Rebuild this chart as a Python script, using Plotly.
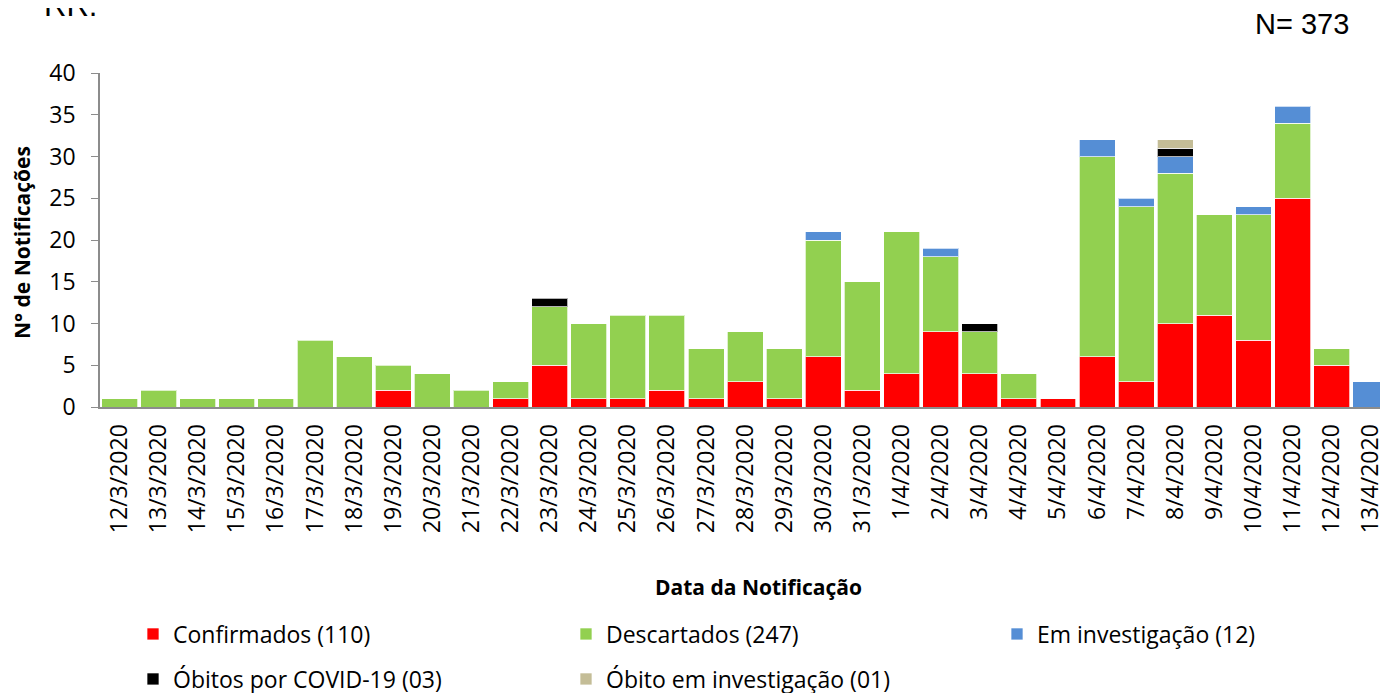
import plotly.graph_objects as go

datas = ["12/3/2020", "13/3/2020", "14/3/2020", "15/3/2020", "16/3/2020", "17/3/2020",
         "18/3/2020", "19/3/2020", "20/3/2020", "21/3/2020", "22/3/2020", "23/3/2020",
         "24/3/2020", "25/3/2020", "26/3/2020", "27/3/2020", "28/3/2020", "29/3/2020",
         "30/3/2020", "31/3/2020", "1/4/2020", "2/4/2020", "3/4/2020", "4/4/2020",
         "5/4/2020", "6/4/2020", "7/4/2020", "8/4/2020", "9/4/2020", "10/4/2020",
         "11/4/2020", "12/4/2020", "13/4/2020"]

confirmados = [None, None, None, None, None, None, None, 2, None, None, 1, 5,
               1, 1, 2, 1, 3, 1, 6, 2, 4, 9, 4, 1,
               1, 6, 3, 10, 11, 8, 25, 5, None]
descartados = [1, 2, 1, 1, 1, 8, 6, 3, 4, 2, 2, 7,
               9, 10, 9, 6, 6, 6, 14, 13, 17, 9, 5, 3,
               None, 24, 21, 18, 12, 15, 9, 2, None]
em_investigacao = [None, None, None, None, None, None, None, None, None, None, None, None,
                   None, None, None, None, None, None, 1, None, None, 1, None, None,
                   None, 2, 1, 2, None, 1, 2, None, 3]
obitos_covid = [None, None, None, None, None, None, None, None, None, None, None, 1,
                None, None, None, None, None, None, None, None, None, None, 1, None,
                None, None, None, 1, None, None, None, None, None]
obito_investigacao = [None, None, None, None, None, None, None, None, None, None, None, None,
                      None, None, None, None, None, None, None, None, None, None, None, None,
                      None, None, None, 1, None, None, None, None, None]

# The page body adds an 8px offset; figure coords = screen coords - OFF
OFF = 8
W, H = 1388 - OFF, 693 - OFF
L, R, T = 100 - OFF, 0, 73 - OFF
B = H - (407 - OFF)
ph = H - T - B
pw = W - L - R


def py(s):
    return (H - B - (s - OFF)) / ph


def px(s):
    return ((s - OFF) - L) / pw


# name, values, colour, legend id, legend text screen position (x, y)
series = [
    ("Confirmados (110)", confirmados, "#FF0000", "legend", (174, 634)),
    ("Descartados (247)", descartados, "#92D050", "legend2", (607, 634)),
    ("Em investigação (12)", em_investigacao, "#558ED5", "legend3", (1038, 634)),
    ("Óbitos por COVID-19 (03)", obitos_covid, "#000000", "legend4", (174, 679)),
    ("Óbito em investigação (01)", obito_investigacao, "#C4BD97", "legend5", (607, 679)),
]

FONT = "Open Sans"

fig = go.Figure()
legends = {}
for name, vals, color, leg, (tx, ty) in series:
    fig.add_trace(go.Bar(
        x=datas, y=vals, name=name,
        marker=dict(color=color, line=dict(color="rgba(255,255,255,0.7)", width=1)),
        legend=leg, showlegend=True,
    ))
    legends[leg] = dict(
        orientation="v", x=px(tx - 41), y=py(ty), xanchor="left", yanchor="middle",
        font=dict(size=23, family=FONT), bgcolor="rgba(0,0,0,0)",
        itemclick=False, itemdoubleclick=False,
    )

fig.update_layout(
    width=W, height=H,
    showlegend=True,
    margin=dict(l=L, r=R, t=T, b=B, autoexpand=False),
    barmode="stack",
    bargap=0.08,
    plot_bgcolor="white",
    paper_bgcolor="white",
    font=dict(family=FONT, color="black"),
    xaxis=dict(
        type="category",
        range=[-0.5, 32.44],
        tickangle=-90,
        tickfont=dict(size=23, family=FONT),
        ticklabelstandoff=6,
        showline=True, linecolor="#8c8c8c", linewidth=2,
        ticks="", showgrid=False,
    ),
    yaxis=dict(
        range=[0, 40],
        dtick=5,
        tickfont=dict(size=23, family=FONT),
        ticklabelstandoff=11,
        showline=True, linecolor="#8c8c8c", linewidth=1.5,
        ticks="outside", tickcolor="#8c8c8c", ticklen=7,
        showgrid=False, zeroline=False,
    ),
    annotations=[
        dict(text="<b>Data da Notificação</b>", x=px(758), y=py(587), xref="paper", yref="paper",
             showarrow=False, xanchor="center", yanchor="middle",
             font=dict(size=21, family=FONT)),
        dict(text="<b>N° de Notificações</b>", x=px(22), y=py(243), xref="paper", yref="paper",
             showarrow=False, xanchor="center", yanchor="middle", textangle=-90,
             font=dict(size=21, family=FONT)),
        dict(text="N= 373", x=px(1351), y=py(24), xref="paper", yref="paper",
             showarrow=False, xanchor="right", yanchor="middle",
             font=dict(size=29, family="Liberation Sans")),
        dict(text="RR.", x=px(42), y=py(25), xref="paper", yref="paper",
             showarrow=False, xanchor="left", yanchor="bottom",
             font=dict(size=31, family="Liberation Sans")),
    ],
    **legends,
)

fig.write_html("out.html")
